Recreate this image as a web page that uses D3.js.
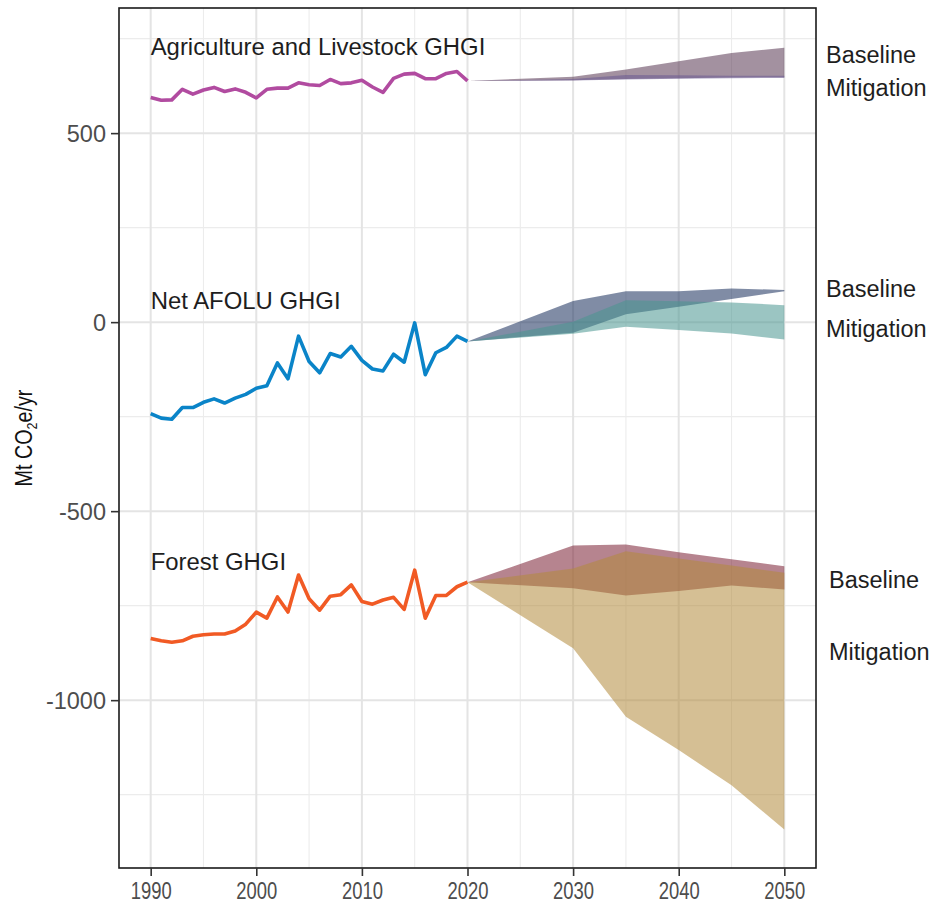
<!DOCTYPE html>
<html>
<head>
<meta charset="utf-8">
<script src="https://cdn.jsdelivr.net/npm/d3@7"></script>
<style>
  html, body { margin: 0; padding: 0; background: #fff; }
  svg { display: block; font-family: "Liberation Sans", Arial, Helvetica, sans-serif; }
</style>
</head>
<body>
<svg id="chart" width="932" height="910"></svg>
<script>
// Historical inventory years and sector series (Mt CO2e/yr)
const histYears = [1990, 1991, 1992, 1993, 1994, 1995, 1996, 1997, 1998, 1999,
                   2000, 2001, 2002, 2003, 2004, 2005, 2006, 2007, 2008, 2009,
                   2010, 2011, 2012, 2013, 2014, 2015, 2016, 2017, 2018, 2019, 2020];

const agriculture = [594, 587, 588, 616, 603, 614, 621, 610, 617, 608,
                     593, 616, 619, 619, 633, 628, 626, 642, 631, 633,
                     640, 622, 608, 645, 656, 658, 644, 644, 658, 663, 638];

const netAfolu = [-242, -254, -257, -226, -226, -212, -203, -214, -201, -191,
                  -175, -168, -108, -150, -37, -104, -134, -83, -92, -64,
                  -101, -124, -129, -85, -106, -2, -139, -81, -67, -37, -51];

const forest = [-837, -843, -847, -843, -831, -827, -825, -825, -817, -799,
                -767, -783, -727, -767, -669, -732, -762, -725, -721, -695,
                -739, -746, -735, -728, -760, -656, -783, -723, -723, -700, -688];

// Projection years and scenario ranges
const projYears = [2020, 2030, 2035, 2040, 2045, 2050];

const agriBaselineLow  = [638, 640, 643, 645, 647, 648];
const agriBaselineHigh = [638, 649, 668, 690, 712, 726];
const agriMitigLow     = [638, 639, 642, 644, 645, 646];
const agriMitigHigh    = [638, 643, 654, 653, 652, 652];

const netBaselineLow   = [-51, -28, 21, 41, 61, 82];
const netBaselineHigh  = [-51, 56, 82, 82, 89, 85];
const netMitigLow      = [-51, -31, -12, -21, -30, -46];
const netMitigHigh     = [-51, 1, 58, 55, 52, 45];

const forBaselineLow   = [-688, -704, -723, -711, -697, -707];
const forBaselineHigh  = [-688, -591, -588, -609, -627, -646];
const forMitigLow      = [-688, -863, -1044, -1132, -1225, -1342];
const forMitigHigh     = [-688, -652, -606, -625, -644, -663];

// Axis ticks
const xTicks = [1990, 2000, 2010, 2020, 2030, 2040, 2050];
const xMinor = [1995, 2005, 2015, 2025, 2035, 2045];
const yTicks = [500, 0, -500, -1000];
const yMinor = [750, 250, -250, -750, -1250];

const sectors = [
  { name: "Agriculture and Livestock GHGI", values: agriculture, color: "#b14ba0",
    labelY: 55,
    baseline: { low: agriBaselineLow, high: agriBaselineHigh, fill: "#583752" },
    mitigation: { low: agriMitigLow, high: agriMitigHigh, fill: "#6a5a92" },
    tagX: 826, baseY: 63, mitY: 96 },
  { name: "Net AFOLU GHGI", values: netAfolu, color: "#0a84c8",
    labelY: 309,
    baseline: { low: netBaselineLow, high: netBaselineHigh, fill: "#182e5b" },
    mitigation: { low: netMitigLow, high: netMitigHigh, fill: "#499690" },
    tagX: 826, baseY: 297, mitY: 337 },
  { name: "Forest GHGI", values: forest, color: "#f15a24",
    labelY: 570,
    baseline: { low: forBaselineLow, high: forBaselineHigh, fill: "#7a1f33" },
    mitigation: { low: forMitigLow, high: forMitigHigh, fill: "#b38b3c" },
    tagX: 829, baseY: 588, mitY: 660 }
];

const svg = d3.select("#chart");
const panel = { left: 119, right: 816, top: 8, bottom: 868 };

const x = d3.scaleLinear().domain([1987, 2053]).range([panel.left, panel.right]);
const y = d3.scaleLinear().domain([-1444, 831]).range([panel.bottom, panel.top]);

// Grid
const grid = svg.append("g");
grid.selectAll(".xminor").data(xMinor).join("line")
  .attr("x1", d => x(d)).attr("x2", d => x(d))
  .attr("y1", panel.top).attr("y2", panel.bottom)
  .attr("stroke", "#ececec").attr("stroke-width", 1.1);
grid.selectAll(".yminor").data(yMinor).join("line")
  .attr("y1", d => y(d)).attr("y2", d => y(d))
  .attr("x1", panel.left).attr("x2", panel.right)
  .attr("stroke", "#ececec").attr("stroke-width", 1.1);
grid.selectAll(".xmajor").data(xTicks).join("line")
  .attr("x1", d => x(d)).attr("x2", d => x(d))
  .attr("y1", panel.top).attr("y2", panel.bottom)
  .attr("stroke", "#e4e4e4").attr("stroke-width", 2);
grid.selectAll(".ymajor").data(yTicks).join("line")
  .attr("y1", d => y(d)).attr("y2", d => y(d))
  .attr("x1", panel.left).attr("x2", panel.right)
  .attr("stroke", "#e4e4e4").attr("stroke-width", 2);

// Scenario ribbons
const area = d3.area()
  .x(d => x(d.year))
  .y0(d => y(d.low))
  .y1(d => y(d.high));

const ribbons = svg.append("g");
sectors.forEach(s => {
  ["baseline", "mitigation"].forEach(k => {
    const r = s[k];
    const rows = projYears.map((yr, i) => ({ year: yr, low: r.low[i], high: r.high[i] }));
    ribbons.append("path")
      .datum(rows)
      .attr("d", area)
      .attr("fill", r.fill)
      .attr("fill-opacity", 0.55);
  });
});

// Historical lines
const line = d3.line()
  .x((d, i) => x(histYears[i]))
  .y(d => y(d));

const lines = svg.append("g");
sectors.forEach(s => {
  lines.append("path")
    .datum(s.values)
    .attr("d", line)
    .attr("fill", "none")
    .attr("stroke", s.color)
    .attr("stroke-width", 3.6)
    .attr("stroke-linejoin", "round");
});

// Sector titles and scenario tags
const labels = svg.append("g")
  .attr("fill", "#1e1e1e");
sectors.forEach(s => {
  labels.append("text").attr("x", x(1990)).attr("y", s.labelY)
    .attr("font-size", 23.9).text(s.name);
  labels.append("text").attr("x", s.tagX).attr("y", s.baseY)
    .attr("font-size", 23.5).text("Baseline");
  labels.append("text").attr("x", s.tagX).attr("y", s.mitY)
    .attr("font-size", 23.5).text("Mitigation");
});

// Panel border
svg.append("rect")
  .attr("x", panel.left).attr("y", panel.top)
  .attr("width", panel.right - panel.left)
  .attr("height", panel.bottom - panel.top)
  .attr("fill", "none")
  .attr("stroke", "#1a1a1a")
  .attr("stroke-width", 1.6);

// Axes
const plain = d => String(d);

const xAxis = svg.append("g")
  .attr("transform", `translate(0,${panel.bottom})`)
  .call(d3.axisBottom(x).tickValues(xTicks).tickFormat(plain).tickSize(8).tickPadding(6));
xAxis.select(".domain").remove();
xAxis.selectAll(".tick line").attr("stroke", "#333").attr("stroke-width", 1.6);
xAxis.selectAll(".tick text")
  .attr("font-size", 24)
  .attr("font-family", "'Liberation Sans Narrow', 'Liberation Sans', Arial, sans-serif")
  .attr("fill", "#4d4d4d")
  .attr("textLength", 41)
  .attr("lengthAdjust", "spacingAndGlyphs");

const yAxis = svg.append("g")
  .attr("transform", `translate(${panel.left},0)`)
  .call(d3.axisLeft(y).tickValues(yTicks).tickFormat(plain).tickSize(8).tickPadding(5));
yAxis.select(".domain").remove();
yAxis.selectAll(".tick line").attr("stroke", "#333").attr("stroke-width", 1.6);
yAxis.selectAll(".tick text")
  .attr("font-size", 23.5)
  .attr("font-family", "'Liberation Sans', Arial, sans-serif")
  .attr("fill", "#4d4d4d")
  .attr("dy", "0.36em");

// Y axis title with subscript
const yTitle = svg.append("g")
  .attr("transform", `translate(32,${(panel.top + panel.bottom) / 2}) rotate(-90) scale(0.84,1)`)
  .append("text")
  .attr("text-anchor", "middle")
  .attr("font-size", 23.5)
  .attr("fill", "#111");
yTitle.append("tspan").text("Mt CO");
yTitle.append("tspan").attr("font-size", 15).attr("dy", 5).text("2");
yTitle.append("tspan").attr("dy", -5).text("e/yr");
</script>
</body>
</html>
